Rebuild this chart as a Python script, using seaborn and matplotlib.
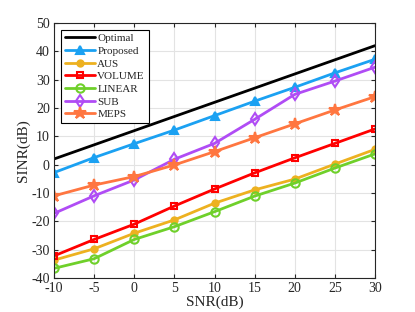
import numpy as np
import pandas as pd
import matplotlib
matplotlib.use("Agg")
import matplotlib.pyplot as plt
import seaborn as sns

snr = [-10, -5, 0, 5, 10, 15, 20, 25, 30]
optimal = [2, 7, 12, 17, 22, 27, 32, 37, 42]
proposed = [-2.8, 2.5, 7.4, 12.2, 17.3, 22.4, 27.3, 32.4, 37.2]
aus = [-33.7, -29.7, -24.2, -19.5, -13.6, -8.9, -5.1, 0.2, 5.4]
volume = [-32.2, -26.4, -21.0, -14.6, -8.6, -2.9, 2.4, 7.5, 12.6]
linear = [-36.6, -33.2, -26.4, -21.9, -16.6, -11.1, -6.5, -1.2, 3.8]
sub = [-17.2, -11.0, -5.4, 1.9, 7.5, 16.0, 24.8, 29.5, 34.4]
meps = [-11.0, -7.2, -4.2, -0.1, 4.6, 9.5, 14.4, 19.3, 24.0]

series = ["Optimal", "Proposed", "AUS", "VOLUME", "LINEAR", "SUB", "MEPS"]
values = [optimal, proposed, aus, volume, linear, sub, meps]

colors = {"Optimal": "#000000", "Proposed": "#1BA1F2", "AUS": "#EDB120",
          "VOLUME": "#FF0000", "LINEAR": "#6FD02A", "SUB": "#B04CF5", "MEPS": "#FF7640"}
markers = {"Optimal": None, "Proposed": "^", "AUS": "o", "VOLUME": "s",
           "LINEAR": "o", "SUB": "d", "MEPS": "*"}
mfill = {"Optimal": True, "Proposed": True, "AUS": True, "VOLUME": False,
         "LINEAR": False, "SUB": False, "MEPS": True}
msize = {"Optimal": 0, "Proposed": 6, "AUS": 4.5, "VOLUME": 5,
         "LINEAR": 6, "SUB": 6, "MEPS": 9}

df = pd.DataFrame({"SNR": snr * len(series),
                   "SINR": sum(values, []),
                   "Method": [s for s in series for _ in snr]})

sns.set_style("white")
plt.rcParams["font.family"] = ["Liberation Serif", "DejaVu Serif"]
plt.rcParams["axes.unicode_minus"] = False

fig = plt.figure(figsize=(4.15, 3.12), dpi=100)
ax = fig.add_axes([54/415, 1 - 278/312, (375-54)/415, (278-23)/312])

for s in series:
    sub_df = df[df["Method"] == s]
    c = colors[s]
    kw = dict(linewidth=2.0, color=c, label=s)
    if markers[s] is not None:
        kw.update(marker=markers[s], markersize=msize[s], markeredgecolor=c,
                  markeredgewidth=1.5,
                  markerfacecolor=c if mfill[s] else "none")
    sns.lineplot(data=sub_df, x="SNR", y="SINR", ax=ax, **kw)

ax.set_xlim(-10, 30)
ax.set_ylim(-40, 50)
ax.set_xticks(np.arange(-10, 31, 5))
ax.set_yticks(np.arange(-40, 51, 10))
ax.grid(True, color="#e3e3e3", linewidth=0.8)
for sp in ax.spines.values():
    sp.set_color("#262626")
    sp.set_linewidth(0.8)
ax.tick_params(axis="both", labelsize=10, direction="in", length=3, colors="#262626",
               top=True, right=True, bottom=True, left=True, pad=3)
ax.set_xlabel("SNR(dB)", fontsize=11, labelpad=0)
ax.set_ylabel("SINR(dB)", fontsize=11, labelpad=1)

leg = ax.legend(loc="upper left", fontsize=8, frameon=True, fancybox=False,
                handlelength=2.7, borderpad=0.35, labelspacing=0.26,
                handletextpad=0.25, borderaxespad=0.6)
leg.get_frame().set_edgecolor("#000000")
leg.get_frame().set_linewidth(0.8)
leg.get_frame().set_alpha(1)

fig.savefig("out.png", dpi=100)
